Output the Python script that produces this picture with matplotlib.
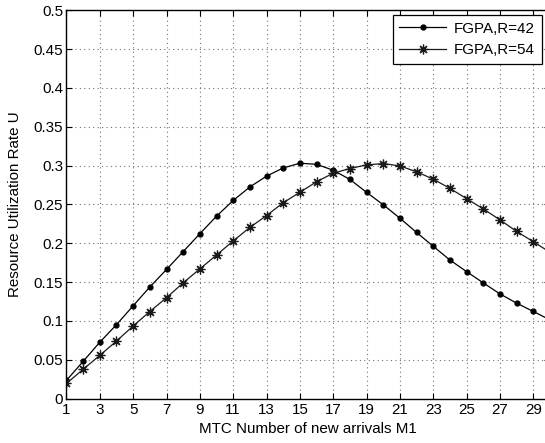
import matplotlib.pyplot as plt

plt.rcParams['font.family'] = ['Liberation Sans', 'DejaVu Sans']

m1 = list(range(1, 31))
util_r42 = [0.0236, 0.048, 0.0727, 0.0953, 0.1196, 0.1438, 0.1663, 0.1893, 0.2123, 0.2349,
            0.2551, 0.2725, 0.2864, 0.2970, 0.3030, 0.3017, 0.2940, 0.2822, 0.2656, 0.2496,
            0.2323, 0.2140, 0.1962, 0.1785, 0.1636, 0.1491, 0.1349, 0.1230, 0.1123, 0.1015]
util_r54 = [0.0197, 0.0378, 0.0558, 0.0742, 0.0936, 0.1122, 0.1300, 0.1491, 0.1670, 0.1849,
            0.2030, 0.2204, 0.2357, 0.2522, 0.2656, 0.2792, 0.2902, 0.2962, 0.3009, 0.3026,
            0.2996, 0.2920, 0.2826, 0.2707, 0.2575, 0.2443, 0.2302, 0.2153, 0.2021, 0.1885]
labels = ["FGPA,R=42", "FGPA,R=54"]

fs = 10.9

fig = plt.figure(figsize=(5.45, 4.43), dpi=100)
ax = fig.add_axes([0.122, 0.1, 0.887, 0.877])

ax.plot(m1, util_r42, color='black', lw=0.9, marker='o', markersize=3.5,
        label=labels[0])
ax.plot(m1, util_r54, color='0.1', lw=0.9, marker=(8, 2, 0), markersize=7,
        markeredgewidth=0.9, label=labels[1])

ax.set_xlim(1, 30)
ax.set_ylim(0, 0.5)
ax.set_xticks(range(1, 30, 2))
ax.set_yticks([i * 0.05 for i in range(11)])
ax.set_yticklabels(['0', '0.05', '0.1', '0.15', '0.2', '0.25', '0.3', '0.35',
                    '0.4', '0.45', '0.5'])
ax.tick_params(direction='in', top=True, right=True, labelsize=fs, length=4)
ax.tick_params(axis='y', pad=2.5)
ax.tick_params(axis='x', pad=3)
ax.grid(True, linestyle=(0, (1, 3)), color='0.45', linewidth=0.8)
for s in ax.spines.values():
    s.set_linewidth(1.0)

ax.set_xlabel("MTC Number of new arrivals M1", fontsize=fs, labelpad=4)
ax.set_ylabel("Resource Utilization Rate U", fontsize=fs, labelpad=8)

leg = ax.legend(loc='upper right', bbox_to_anchor=(0.983, 0.988), fontsize=fs,
                fancybox=False, edgecolor='black', framealpha=1,
                borderaxespad=0, handlelength=3.1, handletextpad=0.5,
                borderpad=0.45, labelspacing=0.5)
leg.get_frame().set_linewidth(0.9)

fig.savefig("out.png", dpi=100)
